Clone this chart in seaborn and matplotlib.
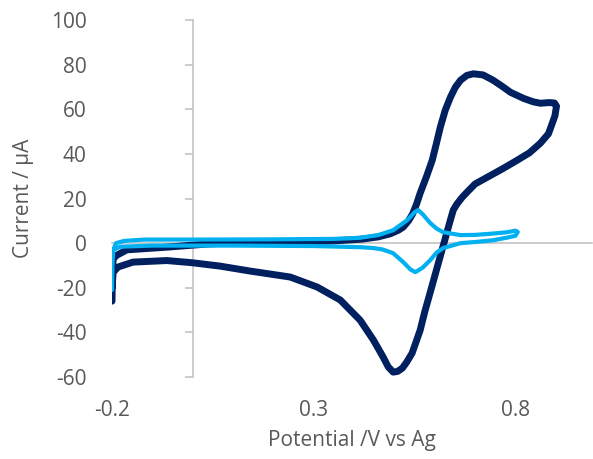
import matplotlib
matplotlib.use("Agg")
import matplotlib.pyplot as plt
import pandas as pd
import seaborn as sns

# potential (V vs Ag) and current (uA), in scan order
dark_v = [-0.200, -0.199, -0.197, -0.188, -0.163, -0.064, 0.043, 0.150, 0.250, 0.350,
          0.420, 0.460, 0.490, 0.510, 0.522, 0.535, 0.545, 0.555, 0.564, 0.580,
          0.594, 0.604, 0.614, 0.626, 0.639, 0.651, 0.664, 0.680, 0.696, 0.720,
          0.745, 0.768, 0.788, 0.820, 0.845, 0.862, 0.885, 0.897, 0.902, 0.898,
          0.894, 0.882, 0.862, 0.835, 0.805, 0.770, 0.731, 0.700, 0.681, 0.668,
          0.655, 0.646, 0.636, 0.626, 0.609, 0.589, 0.575, 0.564, 0.544, 0.530,
          0.520, 0.508, 0.497, 0.485, 0.472, 0.448, 0.415, 0.366, 0.309, 0.242,
          0.142, 0.068, 0.000, -0.064, -0.148, -0.185, -0.197, -0.200]
dark_i = [-26.0, -12.0, -7.0, -5.4, -3.0, -1.8, -0.3, 0.3, 0.6, 1.0,
          1.8, 2.8, 4.2, 5.8, 7.2, 10.0, 13.0, 17.5, 22.4, 30.0,
          37.2, 44.5, 52.0, 59.5, 65.4, 69.8, 73.0, 75.2, 75.9, 75.4,
          73.0, 70.2, 67.6, 64.9, 63.3, 62.7, 63.0, 62.8, 61.4, 57.0,
          55.0, 49.0, 44.8, 40.5, 37.2, 33.5, 29.6, 26.5, 23.0, 20.5,
          17.5, 14.8, 8.5, 2.0, -9.0, -22.0, -31.0, -39.0, -49.3, -53.5,
          -56.0, -57.5, -57.8, -55.5, -51.0, -43.4, -34.5, -25.5, -19.7, -15.2,
          -12.5, -10.3, -8.8, -7.8, -8.5, -10.7, -13.0, -20.0]

light_v = [-0.200, -0.199, -0.197, -0.190, -0.170, -0.120, 0.000, 0.200, 0.350, 0.415,
           0.460, 0.497, 0.532, 0.550, 0.559, 0.570, 0.589, 0.605, 0.621, 0.664,
           0.700, 0.745, 0.780, 0.800, 0.806, 0.800, 0.780, 0.745, 0.700, 0.664,
           0.621, 0.605, 0.589, 0.570, 0.552, 0.540, 0.522, 0.497, 0.470, 0.448,
           0.415, 0.300, 0.100, -0.100, -0.180, -0.197]
light_i = [-21.0, -10.0, -3.0, 0.0, 1.0, 1.6, 1.6, 1.7, 1.9, 2.4,
           3.6, 5.8, 10.3, 13.8, 14.8, 13.0, 9.0, 6.5, 4.9, 3.6,
           3.7, 4.3, 4.9, 5.6, 5.0, 3.3, 2.5, 1.3, 0.5, 0.0,
           -2.2, -4.2, -7.6, -11.0, -13.0, -11.8, -8.5, -4.5, -2.8, -2.2,
           -1.8, -1.3, -1.1, -1.1, -1.6, -3.0]

x_ticks = [-0.2, 0.3, 0.8]
x_labels = ["-0.2", "0.3", "0.8"]
y_ticks = [-60, -40, -20, 0, 20, 40, 60, 80, 100]
y_labels = ["-60", "-40", "-20", "0", "20", "40", "60", "80", "100"]

sns.set_style("white")
plt.rcParams["font.family"] = ["Open Sans", "DejaVu Sans"]
text_c = "#595959"
axis_c = "#BFBFBF"

dark = pd.DataFrame({"v": dark_v, "i": dark_i})
light = pd.DataFrame({"v": light_v, "i": light_i})

fig = plt.figure(figsize=(5.93, 4.59), dpi=100)
ax = fig.add_axes([0.1889, 0.1786, 0.8094, 0.7778])

sns.lineplot(data=dark, x="v", y="i", sort=False, estimator=None,
             color="#002060", lw=5, solid_joinstyle="round",
             solid_capstyle="round", ax=ax)
sns.lineplot(data=light, x="v", y="i", sort=False, estimator=None,
             color="#00B0F0", lw=3, solid_joinstyle="round",
             solid_capstyle="round", ax=ax)

ax.set_xlim(-0.2, 0.99)
ax.set_ylim(-60, 100)

# Excel-style axes crossing at the origin, labels kept low
for s in ["top", "right"]:
    ax.spines[s].set_visible(False)
ax.spines["left"].set_position(("data", 0))
ax.spines["bottom"].set_position(("data", 0))
for s in ["left", "bottom"]:
    ax.spines[s].set_color(axis_c)
    ax.spines[s].set_linewidth(1.1)
    ax.spines[s].set_zorder(0)

ax.set_xticks(x_ticks, x_labels)
ax.set_yticks(y_ticks, y_labels)
ax.tick_params(axis="y", left=True, direction="out", length=5.8, width=1.1,
               color=axis_c, pad=70.5, labelsize=15, labelcolor=text_c)
ax.tick_params(axis="x", length=0, pad=113, labelsize=15, labelcolor=text_c)

ax.set_xlabel("Potential /V vs Ag", fontsize=15, color=text_c)
ax.set_ylabel("Current / µA", fontsize=15, color=text_c)
ax.xaxis.set_label_coords(0.5, -0.179)
ax.xaxis.label.set_va("center")
ax.yaxis.set_label_coords(-0.184, 0.5)
ax.yaxis.label.set_va("center")

fig.savefig("out.png", dpi=100)
